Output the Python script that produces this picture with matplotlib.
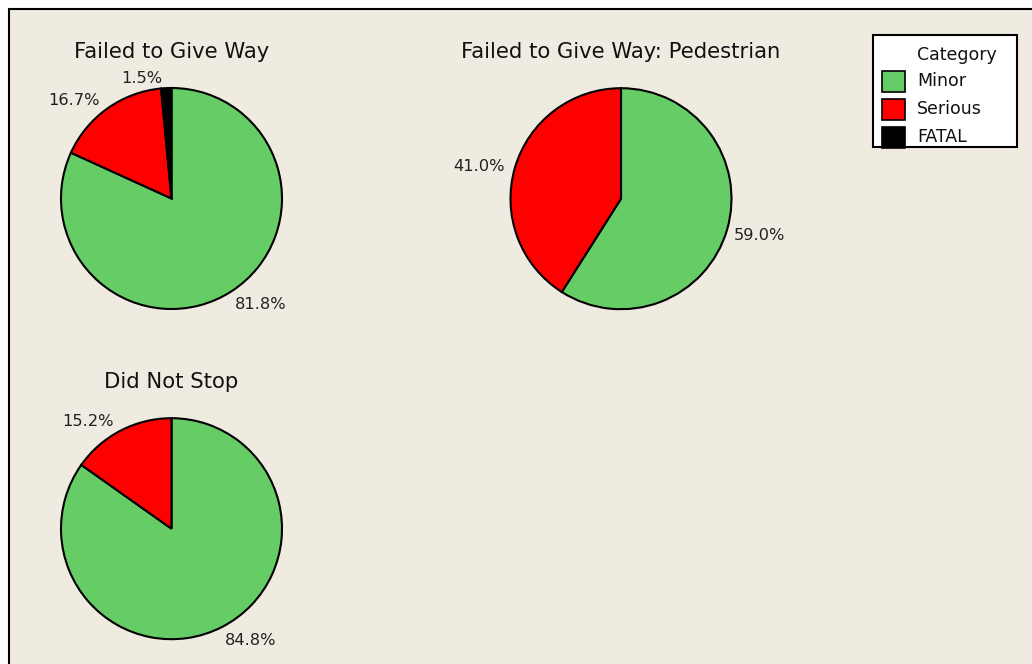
import numpy as np
import matplotlib
matplotlib.use('Agg')
import matplotlib.pyplot as plt
from matplotlib.patches import Rectangle

# Data (percent of crashes by severity)
categories = ['Minor', 'Serious', 'FATAL']
colors = ['#66CC66', '#FF0000', '#000000']
titles = ['Failed to Give Way', 'Failed to Give Way: Pedestrian', 'Did Not Stop']
fgw_values = [81.8, 16.7, 1.5]
ped_values = [59.0, 41.0, 0.0]
dns_values = [84.8, 15.2, 0.0]

W, H = 1032, 664
fig = plt.figure(figsize=(W / 100, H / 100), dpi=100)
fig.patch.set_facecolor('white')

ax = fig.add_axes([0, 0, 1, 1])
ax.set_facecolor('none')

# beige panel with black border (runs off the right and bottom edges)
ax.add_patch(Rectangle((9, -20), W + 20, H - 9 + 20, facecolor='#EFEBE1',
                       edgecolor='black', linewidth=1.5, zorder=0, clip_on=False))

R = 110.5
centers = [(171.5, H - 198.5), (621, H - 198.7), (171.5, H - 528.7)]
title_y = [H - 52, H - 52, H - 381.7]

for vals, title, c, ty in zip([fgw_values, ped_values, dns_values], titles, centers, title_y):
    keep = [i for i, v in enumerate(vals) if v > 0]
    v = [vals[i] for i in keep]
    col = [colors[i] for i in keep]
    wedges, _ = ax.pie(v, colors=col, startangle=90, counterclock=False,
                       center=c, radius=R,
                       wedgeprops=dict(edgecolor='black', linewidth=1.5, zorder=2))
    # percentage labels just outside each slice
    for w, val in zip(wedges, v):
        ang = np.deg2rad((w.theta1 + w.theta2) / 2)
        ca, sa = np.cos(ang), np.sin(ang)
        tx = c[0] + 1.06 * R * ca + (0 if ca > 0 else -4)
        ty_ = c[1] + 1.06 * R * sa + 6 * sa - 2.5
        ax.text(tx, ty_, f'{val:.1f}%', ha='left' if ca > 0 else 'right',
                va='center', fontsize=11.7, color='#222222', zorder=3)
    ax.text(c[0], ty, title, ha='center', va='center', fontsize=15.2,
            color='#111111', zorder=3)

# legend box
ax.add_patch(Rectangle((872.5, H - 146.7), 144, 111.7, facecolor='white',
                       edgecolor='black', linewidth=1.5, zorder=3))
ax.text(917, H - 55, 'Category', ha='left', va='center', fontsize=12.5,
        color='#111111', zorder=4)
for i, (cat, col) in enumerate(zip(categories, colors)):
    yc = H - (81.5 + 28 * i)
    ax.add_patch(Rectangle((882, yc - 10.5), 23, 21, facecolor=col,
                           edgecolor='black', linewidth=1.2, zorder=4))
    ax.text(917, yc, cat, ha='left', va='center', fontsize=12.5,
            color='#111111', zorder=4)

ax.set_xlim(0, W)
ax.set_ylim(0, H)
ax.set_aspect('auto')
ax.axis('off')

fig.savefig('out.png', dpi=100, facecolor=fig.get_facecolor())
